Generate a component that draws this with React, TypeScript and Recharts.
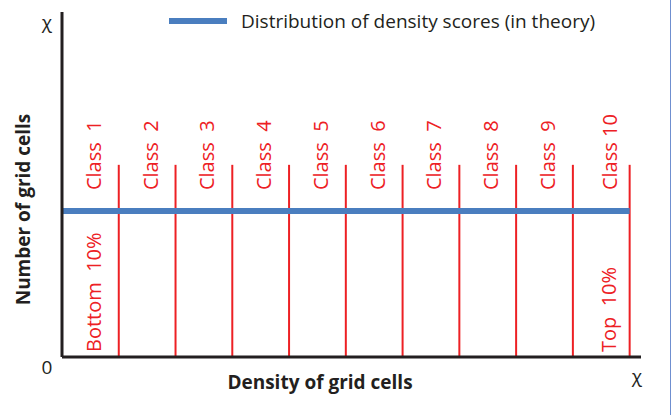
import React from 'react';
import {
  ComposedChart,
  Line,
  XAxis,
  YAxis,
  ReferenceLine,
  ReferenceDot,
  Legend,
} from 'recharts';

// class names along the density axis
const classNames = ['Class\u00a0\u00a01', 'Class\u00a0\u00a02', 'Class\u00a0\u00a03', 'Class\u00a0\u00a04', 'Class\u00a0\u00a05', 'Class\u00a0\u00a06', 'Class\u00a0\u00a07', 'Class\u00a0\u00a08', 'Class\u00a0\u00a09', 'Class\u00a010'];
// class boundaries (0 .. 10)
const boundaries = [0, 1, 2, 3, 4, 5, 6, 7, 8, 9, 10];
// the theoretical (uniform) distribution
const theoryX = [0, 10];
const theoryY = [0.423, 0.423];
const classTop = 0.557;
const classLabelY = 0.484;
const xMax = 10.2;

const yTicks = [0, 1];
const yTickLabels = ['0', 'χ'];
const xTickLabel = 'χ';

const legendLabel = 'Distribution of density scores (in theory)';
const xTitle = 'Density of grid cells';
const yTitle = 'Number of grid cells';
const bottomLabel = 'Bottom\u00a0\u00a010%';
const topLabel = 'Top\u00a0\u00a010%';

const data = theoryX.map((x, i) => ({ x, y: theoryY[i] }));

const RED = '#ed2024';
const BLUE = '#4a7ebf';
const INK = '#231f20';
const FONT = '"Open Sans", sans-serif';

const rotated = (text: string, dx: number, dy: number) => (props: any) => {
  const { x, y } = props.viewBox;
  const tx = x + dx;
  const ty = y + dy;
  return (
    <text
      x={tx}
      y={ty}
      transform={`rotate(-90, ${tx}, ${ty})`}
      fill={RED}
      fontSize={20}
      fontFamily={FONT}
      dominantBaseline="central"
      textAnchor="start"
    >
      {text}
    </text>
  );
};

const YTick = (props: any) => {
  const i = yTicks.indexOf(props.payload.value);
  const top = props.payload.value === 1;
  return (
    <text
      x={47}
      y={props.y + (top ? 10 : 10)}
      fill={INK}
      fontSize={19}
      fontFamily={FONT}
      textAnchor="middle"
      dominantBaseline="central"
    >
      {yTickLabels[i]}
    </text>
  );
};

const XTick = (props: any) => (
  <text
    x={props.x - 4}
    y={376}
    fill={INK}
    fontSize={19}
    fontFamily={FONT}
    textAnchor="middle"
    dominantBaseline="central"
  >
    {xTickLabel}
  </text>
);

const LegendBox = () => (
  <div style={{ display: 'flex', alignItems: 'center', fontFamily: FONT, fontSize: 19, color: INK }}>
    <span style={{ display: 'inline-block', width: 58, height: 6, background: BLUE, marginRight: 14 }} />
    <span>{legendLabel}</span>
  </div>
);

export default function App() {
  return (
    <div style={{ position: 'absolute', left: 0, top: 0, width: 672, height: 415, background: '#fff' }}>
      <ComposedChart width={672} height={415} data={data} margin={{ top: 12, right: 31, bottom: 0, left: 0 }}>
        <XAxis
          type="number"
          dataKey="x"
          domain={[0, xMax]}
          ticks={[xMax]}
          tick={<XTick />}
          tickLine={false}
          axisLine={{ stroke: INK, strokeWidth: 3 }}
          height={58}
          label={{
            content: (p: any) => (
              <text
                x={p.viewBox.x + 258}
                y={p.viewBox.y + 25}
                fill={INK}
                fontSize={19}
                fontWeight="bold"
                fontFamily={FONT}
                textAnchor="middle"
                dominantBaseline="central"
              >
                {xTitle}
              </text>
            ),
          }}
        />
        <YAxis
          type="number"
          domain={[0, 1]}
          ticks={yTicks}
          tick={<YTick />}
          tickLine={false}
          axisLine={{ stroke: INK, strokeWidth: 3 }}
          width={62}
          label={{
            content: (p: any) => {
              const cx = p.viewBox.x + 23;
              const cy = p.viewBox.y + p.viewBox.height / 2 + 25;
              return (
                <text
                  x={cx}
                  y={cy}
                  transform={`rotate(-90, ${cx}, ${cy})`}
                  fill={INK}
                  fontSize={19}
                  fontWeight="bold"
                  fontFamily={FONT}
                  textAnchor="middle"
                  dominantBaseline="central"
                >
                  {yTitle}
                </text>
              );
            },
          }}
        />
        <Legend
          layout="horizontal"
          verticalAlign="middle"
          align="center"
          content={<LegendBox />}
          wrapperStyle={{ top: 8, left: 169, width: 'auto' }}
        />
        {boundaries.map((b) => (
          <ReferenceLine
            key={b}
            segment={[{ x: b, y: 0 }, { x: b, y: classTop }]}
            stroke={RED}
            strokeWidth={2}
          />
        ))}
        <Line
          dataKey="y"
          stroke={BLUE}
          strokeWidth={6}
          dot={false}
          isAnimationActive={false}
          legendType="none"
        />
        {classNames.map((name, i) => (
          <ReferenceDot
            key={name}
            x={i + 0.5}
            y={classLabelY}
            r={0}
            fill="none"
            stroke="none"
            label={rotated(name, i === 9 ? 8 : 3, 0)}
          />
        ))}
        <ReferenceDot x={0.5} y={0} r={0} fill="none" stroke="none" label={rotated(bottomLabel, 3, -5)} />
        <ReferenceDot x={9.5} y={0} r={0} fill="none" stroke="none" label={rotated(topLabel, 7, -5)} />
      </ComposedChart>
      {/* thin page frame at the right edge */}
      <div style={{ position: 'absolute', left: 670, top: 0, width: 1, height: 415, background: '#6f8fd0' }} />
    </div>
  );
}
